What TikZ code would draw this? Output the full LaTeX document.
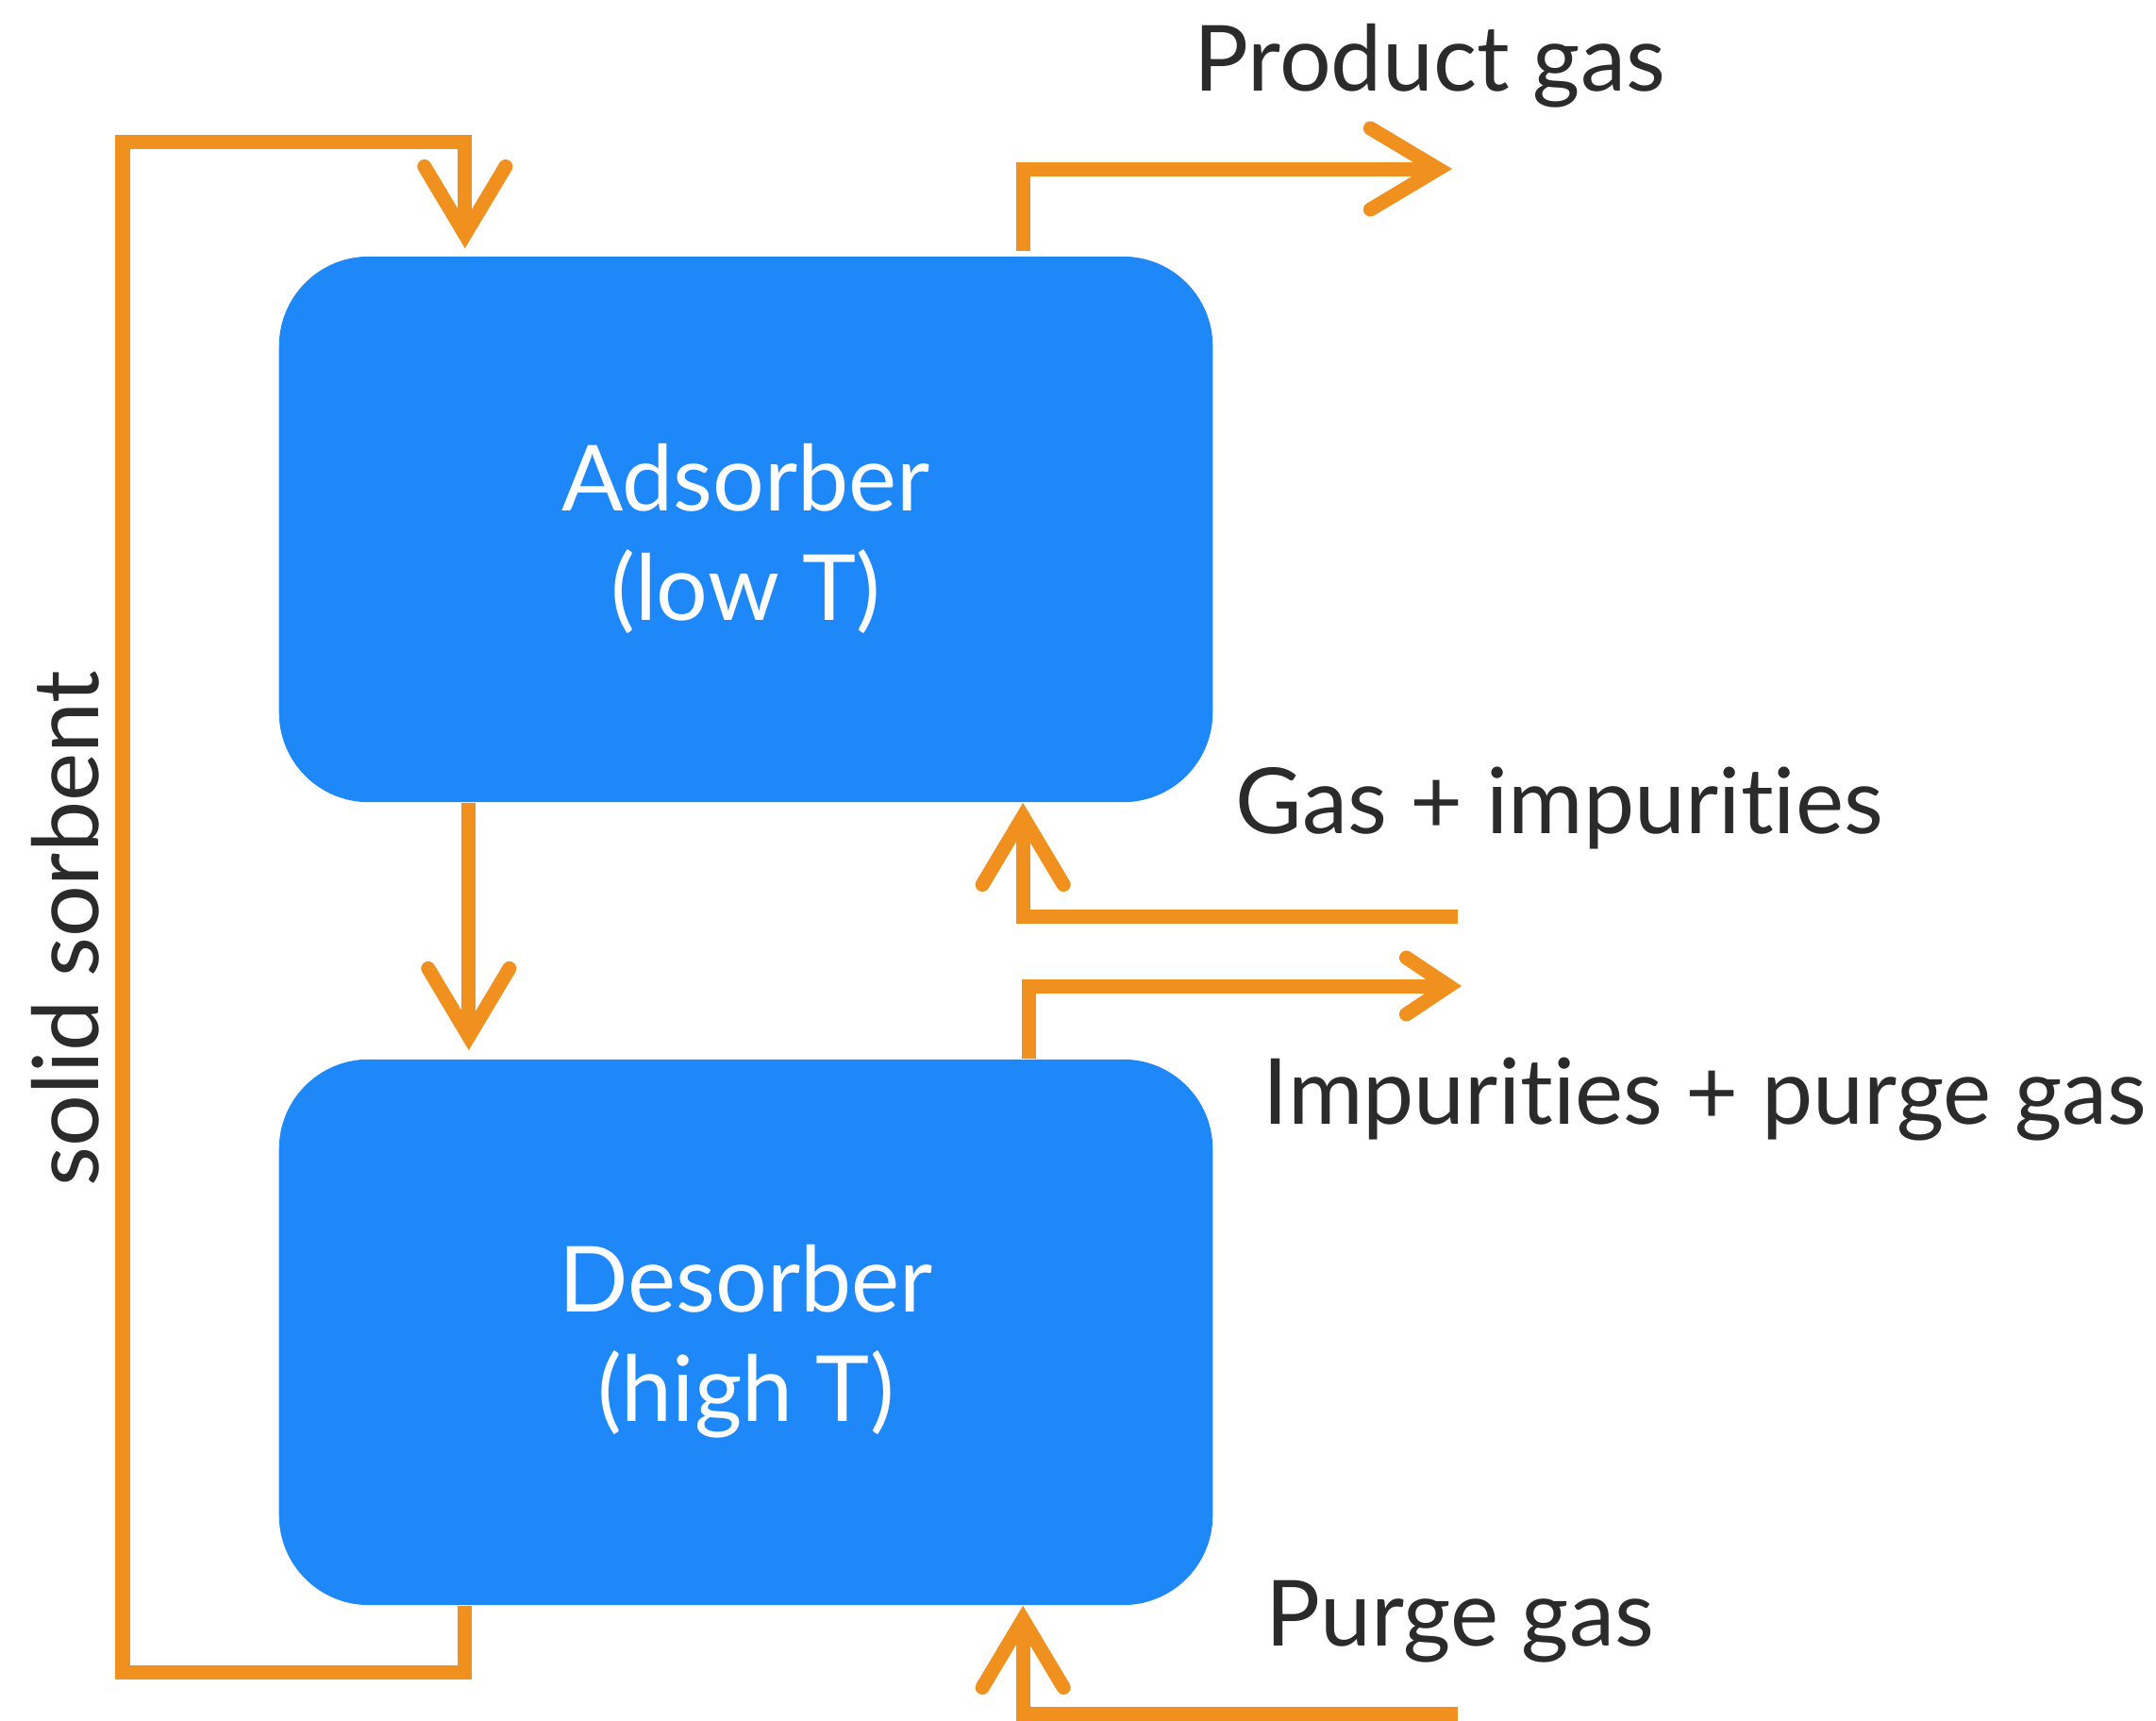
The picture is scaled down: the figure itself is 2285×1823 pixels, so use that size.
\documentclass[tikz,border=0pt]{standalone}
\usepackage{fontspec}
\setmainfont[Ligatures=NoCommon]{Lato}
\usepackage{tikz}
\usetikzlibrary{arrows.meta}
\usetikzlibrary{positioning}
\definecolor{sorbentblue}{HTML}{1E88F8}
\definecolor{flowgold}{HTML}{F0911F}
\definecolor{labelgray}{HTML}{2B2B2B}
\tikzset{
    unit/.style={
           rectangle,
           rounded corners=0.95cm,
           fill=sorbentblue,
           minimum width=9.89cm,
           minimum height=5.78cm,
           },
    unitlabel/.style={
           text=white,
           align=center,
           inner sep=0pt,
           font=\fontsize{27.5}{33}\selectfont,
           },
    stream/.style={
           text=labelgray,
           inner sep=0pt,
           anchor=base west,
           font=\fontsize{27.5}{33}\selectfont,
           },
    flow/.style={
           draw=flowgold,
           line width=0.15cm,
           -{Straight Barb[length=0.72cm,width=0.86cm,line cap=round]},
           },
    smallhead/.style={
           -{Straight Barb[length=0.45cm,width=0.6cm,line cap=round]},
           },
}

\begin{document}
\begin{tikzpicture}[x=0.01cm,y=-0.01cm]
        \useasboundingbox (0,0) rectangle (2285,1823);

        % UNIT ADSORBER
        % Use previously defined 'unit' as layout (see above)
        \node[unit] (ADSORBER) at (790.5,561) {};
        \node[unitlabel] (ADSORBER_TXT) at ([yshift=-0.1cm]ADSORBER.center)
        {Adsorber\\(low T)};

        % UNIT DESORBER
        % same layout, placed below the adsorber
        \node[unit,
            below=2.71cm of ADSORBER] (DESORBER) {};
        \node[unitlabel] (DESORBER_TXT) at ([yshift=-0.1cm]DESORBER.center)
        {Desorber\\(high T)};

        % free ends of the gas streams
        \coordinate (PRODUCT_OUT) at (1539,179);
        \coordinate (FEED_IN)     at (1545,971);
        \coordinate (PURGE_OUT)   at (1549,1045);
        \coordinate (PURGE_IN)    at (1545,1816);

        % solid sorbent loop: desorber back to adsorber
        \draw[flow] ([xshift=-2.975cm]DESORBER.south) -- ++(0,71)
            -| (130,150) -| ([xshift=-2.975cm,yshift=0.08cm]ADSORBER.north);
        % solid sorbent: adsorber down to desorber
        \draw[flow] ([xshift=-2.935cm]ADSORBER.south)
            -- ([xshift=-2.935cm,yshift=0.09cm]DESORBER.north);

        % gas streams
        \draw[flow] ([xshift=2.935cm,yshift=0.05cm]ADSORBER.north) |- (PRODUCT_OUT);
        \draw[flow] (FEED_IN) -| ([xshift=2.935cm]ADSORBER.south);
        \draw[flow,smallhead] ([xshift=2.995cm]DESORBER.north) |- (PURGE_OUT);
        \draw[flow] (PURGE_IN) -| ([xshift=2.935cm]DESORBER.south);

        % labels of the streams
        \node[stream] (L_PRODUCT)  at (1265,96)   {Product gas};
        \node[stream] (L_FEED)     at (1309,883)  {Gas + impurities};
        \node[stream] (L_PURGEOUT) at (1338,1191) {Impurities + purge gas};
        \node[stream] (L_PURGEIN)  at (1341,1744) {Purge gas};
        \node[stream,
            rotate=90,
            anchor=base] (L_SORBENT) at (104,984) {solid sorbent};

\end{tikzpicture}
\end{document}
